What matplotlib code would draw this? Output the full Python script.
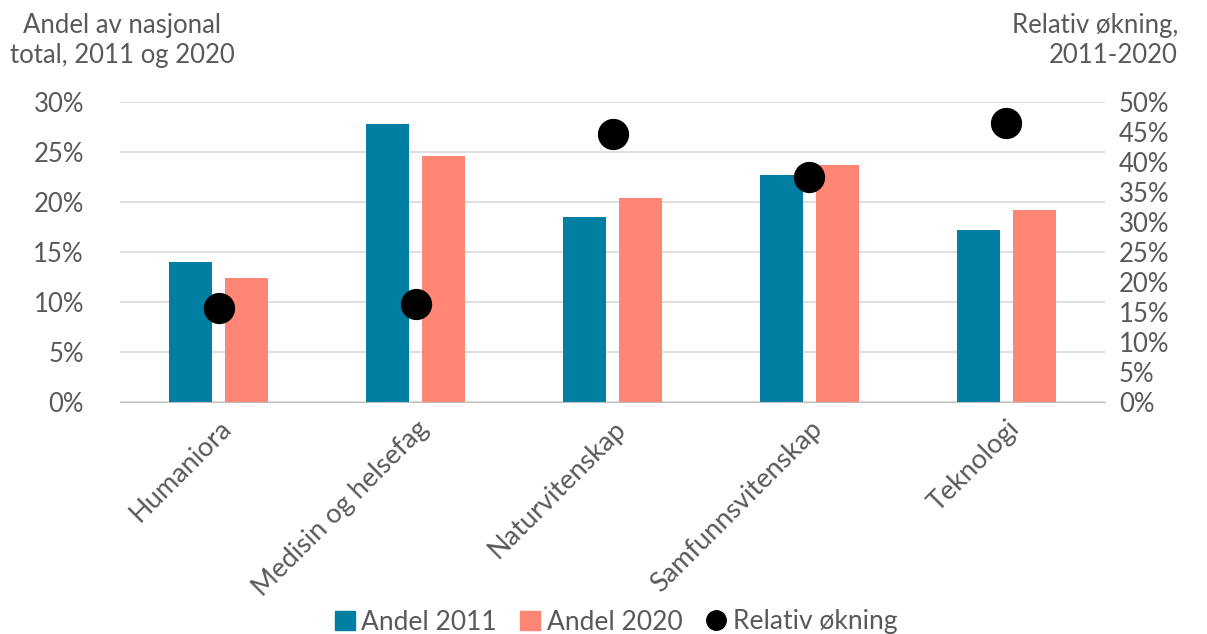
import matplotlib
matplotlib.use("Agg")
import matplotlib.pyplot as plt
import numpy as np
from matplotlib.lines import Line2D
from matplotlib.patches import Patch

categories = ["Humaniora", "Medisin og helsefag", "Naturvitenskap", "Samfunnsvitenskap", "Teknologi"]
andel_2011 = [14.0, 27.8, 18.5, 22.7, 17.2]
andel_2020 = [12.4, 24.6, 20.4, 23.7, 19.2]
relativ_okning = [15.7, 16.3, 44.7, 37.5, 46.5]
left_ticks = [0, 5, 10, 15, 20, 25, 30]
right_ticks = [0, 5, 10, 15, 20, 25, 30, 35, 40, 45, 50]

C11 = "#007FA3"
C20 = "#FF8674"
TXT = "#595959"
plt.rcParams['font.family'] = ['Lato', 'DejaVu Sans']

fig = plt.figure(figsize=(12.07, 6.34), dpi=100)
ax = fig.add_axes([120/1207, 1-402/634, 985/1207, 300/634])
ax2 = ax.twinx()

x = np.arange(len(categories))
w = 0.223
off = 0.142
ax.bar(x - off, andel_2011, w, color=C11, zorder=2)
ax.bar(x + off, andel_2020, w, color=C20, zorder=2)
ax2.plot(x, relativ_okning, 'o', color='black', markersize=21.5, zorder=3)

ax.set_xlim(-0.5, len(categories) - 0.5)
ax.set_ylim(0, 30)
ax2.set_ylim(0, 50)
ax.set_yticks(left_ticks)
ax.set_yticklabels([f"{t}%" for t in left_ticks])
ax2.set_yticks(right_ticks)
ax2.set_yticklabels([f"{t}%" for t in right_ticks])
ax.grid(axis='y', color='#d9d9d9', linewidth=1.2, zorder=0)
ax.set_axisbelow(True)
ax.set_xticks(x)
ax.set_xticklabels(categories, rotation=45, ha='right', rotation_mode='anchor', fontsize=19.5)

for a in (ax, ax2):
    for s in a.spines.values():
        s.set_visible(False)
    a.tick_params(length=0, labelsize=18.5, labelcolor=TXT)
ax.tick_params(axis='x', labelsize=19.5)
ax.spines['bottom'].set_visible(True)
ax.spines['bottom'].set_color('#bfbfbf')
ax.tick_params(axis='y', pad=26)
ax2.tick_params(axis='y', pad=10)
ax.tick_params(axis='x', pad=10)

fig.text(122/1207, 1-13/634, "Andel av nasjonal\ntotal, 2011 og 2020", ha='center', va='top',
         fontsize=18.5, color=TXT, linespacing=1.25)
fig.text(1178/1207, 1-13/634, "Relativ økning,\n2011-2020", ha='right', va='top',
         fontsize=18.5, color=TXT, linespacing=1.25, multialignment='right')

handles = [Patch(color=C11), Patch(color=C20),
           Line2D([], [], marker='o', color='black', linestyle='none', markersize=14)]
fig.legend(handles, ["Andel 2011", "Andel 2020", "Relativ økning"], loc='center',
           bbox_to_anchor=(616/1207, 1-622/634), ncol=3, frameon=False, fontsize=19,
           labelcolor=TXT, handlelength=0.75, handleheight=0.75, handletextpad=0.25,
           columnspacing=0.9)

fig.savefig("out.png", dpi=100)
